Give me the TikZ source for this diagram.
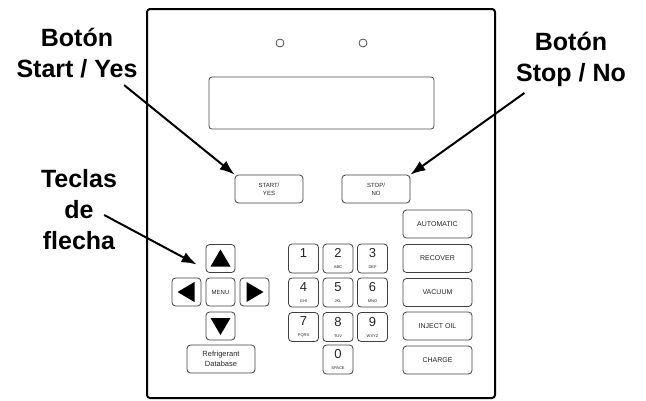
\documentclass[tikz,border=0pt]{standalone}
\usepackage{fontspec}
\setmainfont{Liberation Sans}
\usetikzlibrary{arrows.meta}
\newcommand\keysub[1]{{\fontsize{4}{4}\selectfont #1}}

\begin{document}
\begin{tikzpicture}[x=1pt,y=-1pt,
    panel/.style={line width=2pt,rounded corners=3pt},
    key/.style={draw=black!75,line width=0.8pt,rounded corners=3.5pt,inner sep=0pt,align=center,text=black!85},
    modekey/.style={key,minimum width=69pt,minimum height=28pt,font=\fontsize{7}{8}\selectfont},
    numkey/.style={key,minimum width=30pt,minimum height=29pt,font=\fontsize{13}{13}\selectfont},
    arrowkey/.style={key,minimum width=29pt,minimum height=28pt,font=\fontsize{6}{7}\selectfont},
    led/.style={draw=black!70,line width=0.8pt,circle,minimum size=8pt,inner sep=0pt},
    lbl/.style={font=\bfseries\fontsize{25}{31}\selectfont,align=center,inner sep=0pt},
    pointer/.style={line width=2pt,-{Latex[length=15pt,width=11pt]}}]
    \useasboundingbox (0,0) rectangle (646,400);
    % front panel
    \draw[panel] (147,9) rectangle (495,398);
    \node[led] (led1) at (280,43) {};
    \node[led] (led2) at (363,43) {};
    \node[draw=black!70,line width=0.8pt,rounded corners=3pt,minimum width=225pt,minimum height=52pt] (display) at (321.5,103) {};
    % start / stop
    \node[key,minimum width=68pt,minimum height=28pt,font=\fontsize{6}{8}\selectfont] (start) at (269,189) {START/\\YES};
    \node[key,minimum width=68pt,minimum height=28pt,font=\fontsize{6}{8}\selectfont] (stop) at (376,189) {STOP/\\NO};
    % mode keys
    \node[modekey] (auto) at (437.5,224) {AUTOMATIC};
    \node[modekey] (recover) at (437.5,258.5) {RECOVER};
    \node[modekey] (vacuum) at (437.5,292.5) {VACUUM};
    \node[modekey] (inject) at (437.5,326) {INJECT OIL};
    \node[modekey] (charge) at (437.5,360) {CHARGE};
    % number keys
    \node[numkey] (k1) at (303.5,258.5) {1\\[-2pt]\keysub{\phantom{A}}};
    \node[numkey] (k2) at (338,258.5) {2\\[-2pt]\keysub{ABC}};
    \node[numkey] (k3) at (372.5,258.5) {3\\[-2pt]\keysub{DEF}};
    \node[numkey] (k4) at (303.5,292.5) {4\\[-2pt]\keysub{GHI}};
    \node[numkey] (k5) at (338,292.5) {5\\[-2pt]\keysub{JKL}};
    \node[numkey] (k6) at (372.5,292.5) {6\\[-2pt]\keysub{MNO}};
    \node[numkey] (k7) at (303.5,327) {7\\[-2pt]\keysub{PQRS}};
    \node[numkey] (k8) at (338,327) {8\\[-2pt]\keysub{TUV}};
    \node[numkey] (k9) at (372.5,327) {9\\[-2pt]\keysub{WXYZ}};
    \node[numkey] (k0) at (338,359.5) {0\\[-2pt]\keysub{SPACE}};
    % arrow keys
    \node[arrowkey] (up) at (220.5,258.5) {};
    \node[arrowkey] (left) at (186.5,292) {};
    \node[arrowkey] (menu) at (220.5,292) {MENU};
    \node[arrowkey] (right) at (254.5,292) {};
    \node[arrowkey] (down) at (220.5,326) {};
    \node[key,minimum width=68pt,minimum height=28pt,font=\fontsize{7.5}{10}\selectfont] (refdb) at (221,359) {Refrigerant\\Database};
    \fill[shift={(up)}] (0,-9) -- (10,8) -- (-10,8) -- cycle;
    \fill[shift={(down)}] (0,9) -- (10,-8) -- (-10,-8) -- cycle;
    \fill[shift={(left)}] (-9,0) -- (8,-10) -- (8,10) -- cycle;
    \fill[shift={(right)}] (9,0) -- (-8,-10) -- (-8,10) -- cycle;
    % callouts
    \node[lbl] (yeslbl) at (77,53) {Botón\\Start / Yes};
    \node[lbl] (nolbl) at (571,59.5) {Botón\\Stop / No};
    \node[lbl] (teclbl) at (79,210) {Teclas\\de\\flecha};
    \draw[pointer] ([shift={(-13.5,7)}]yeslbl.south east) -- (start.north west);
    \draw[pointer] ([shift={(8.5,6)}]nolbl.south west) -- (stop.north east);
    \draw[pointer] ([shift={(-13,5)}]teclbl.east) -- ([shift={(-9,6)}]up.west);
\end{tikzpicture}
\end{document}
